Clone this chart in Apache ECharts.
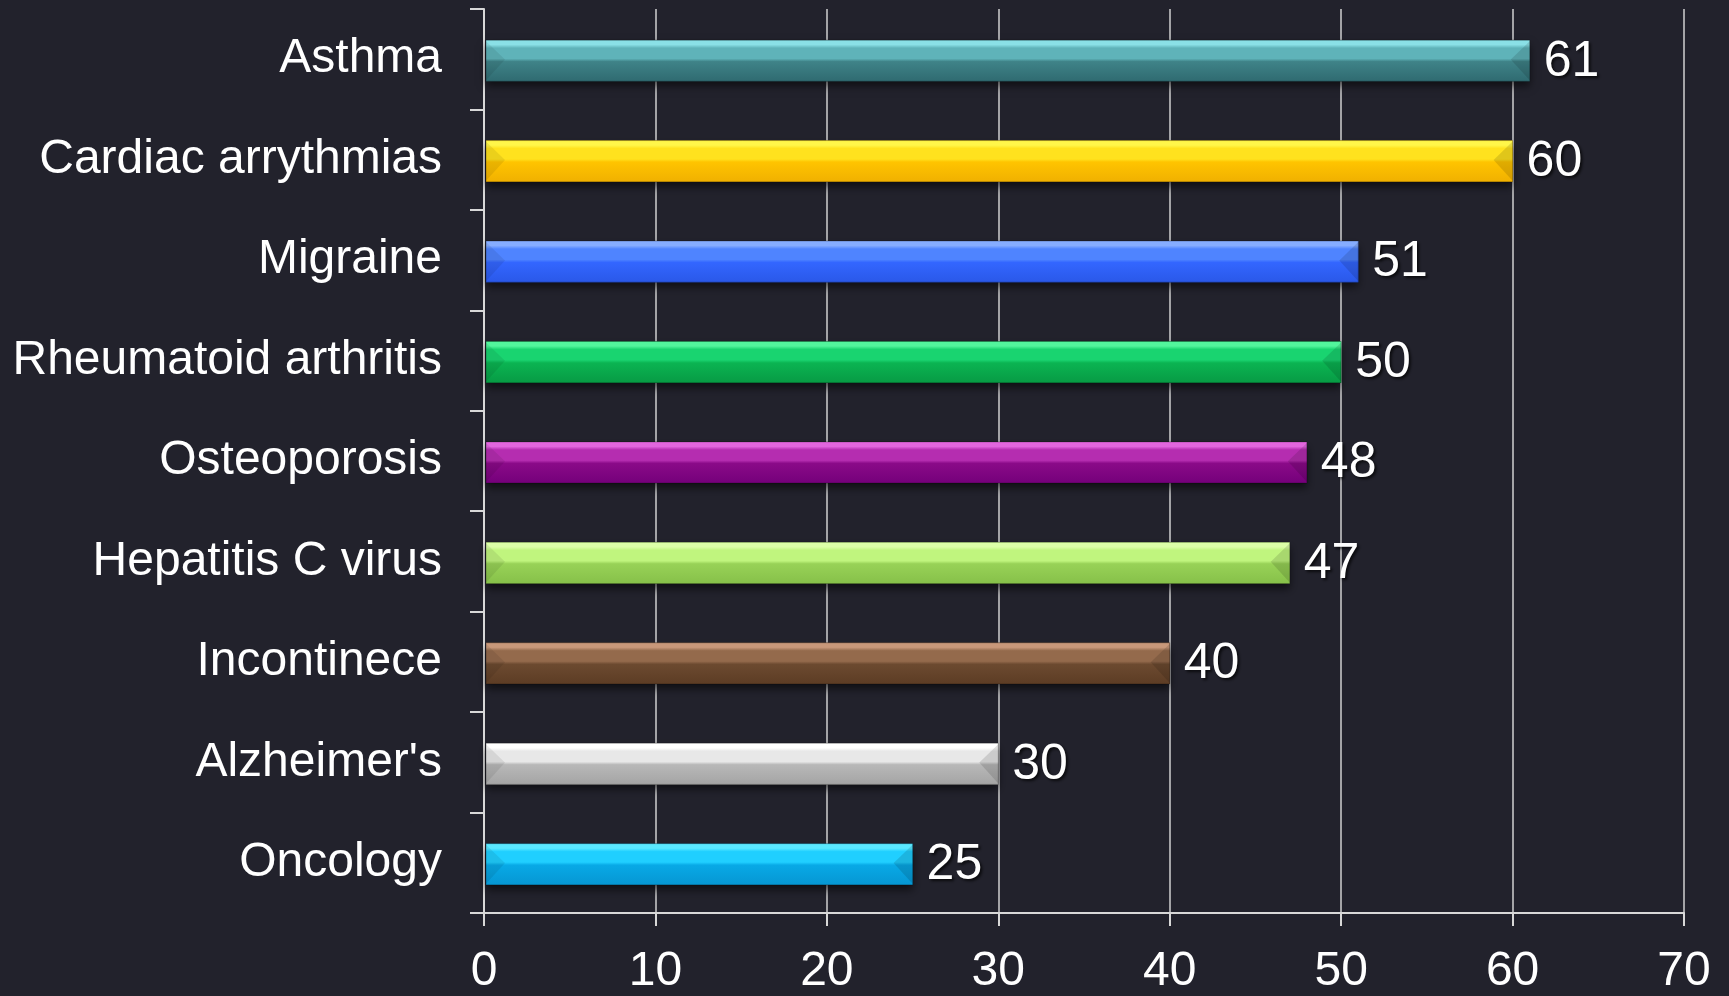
<!DOCTYPE html>
<html>
<head>
<meta charset="utf-8">
<script src="https://cdn.jsdelivr.net/npm/echarts@6/dist/echarts.min.js"></script>
<style>
html,body{margin:0;padding:0;background:#22222c;overflow:hidden;}
#chart{width:1729px;height:996px;}
</style>
</head>
<body>
<div id="chart"></div>
<script>
var categories = ["Asthma","Cardiac arrythmias","Migraine","Rheumatoid arthritis","Osteoporosis","Hepatitis C virus","Incontinece","Alzheimer's","Oncology"];
var values = [61,60,51,50,48,47,40,30,25];
var xTicks = [0,10,20,30,40,50,60,70];
// [highlight, light, base, dark]
var barColors = [
  ["#8ae0e6","#5fb3b9","#3f8388","#2f6a70"],
  ["#fff64a","#ffe21e","#ffc400","#f0b000"],
  ["#86adff","#4f84ff","#3366ff","#2a58e8"],
  ["#52f59c","#19d470","#0bb452","#079a44"],
  ["#e266de","#b52db0","#8a0a88","#74007a"],
  ["#dcffa8","#c0f57e","#98d257","#86c049"],
  ["#c8987a","#946a4c","#6c4a30","#5c3c24"],
  ["#ffffff","#e8e8e8","#b8b8b8","#a4a4a4"],
  ["#5ae8ff","#20cfff","#08a9e6","#0696d2"]
];

var chart = echarts.init(document.getElementById('chart'));
var data = values.map(function(v,i){ return [v, i]; });

function renderItem(params, api){
  var idx = api.value(1);
  var val = api.value(0);
  var p0 = api.coord([0, idx]);
  var p1 = api.coord([val, idx]);
  var band = api.size([0, 1])[1];
  var h = band * 0.41;
  var cy = p0[1] + 1.5;
  var x0 = p0[0] + 2, x1 = p1[0];
  var top = cy - h/2, bot = cy + h/2;
  var c = barColors[idx];
  var bev = 19;
  var mid = top + h*0.47;
  return {
    type: 'group',
    children: [
      {type:'rect', shape:{x:x0, y:top, width:x1-x0, height:h},
       style:{fill:c[3], shadowBlur:8, shadowOffsetY:5, shadowColor:'rgba(0,0,0,0.55)'}},
      {type:'rect', shape:{x:x0, y:top, width:x1-x0, height:h},
       style:{fill:new echarts.graphic.LinearGradient(0,0,0,1,[
         {offset:0,color:c[0]},{offset:0.12,color:c[0]},{offset:0.2,color:c[1]},
         {offset:0.45,color:c[1]},{offset:0.52,color:c[2]},{offset:1,color:c[3]}]),
         stroke:'rgba(0,0,0,0.25)', lineWidth:1}},
      {type:'polygon', shape:{points:[[x0,top+1],[x0+bev,mid],[x0,bot-1]]},
       style:{fill:'rgba(0,0,0,0.08)'}},
      {type:'polygon', shape:{points:[[x1,top+1],[x1-bev,mid],[x1,bot-1]]},
       style:{fill:'rgba(0,0,0,0.12)'}},
      {type:'text', x: x1 + 14, y: cy + 1,
       style:{text:String(val), fill:'#ffffff', fontSize:50,
         fontFamily:'"Liberation Sans", Arial, sans-serif',
         verticalAlign:'middle', align:'left',
         textShadowColor:'rgba(0,0,0,0.7)', textShadowBlur:3, textShadowOffsetX:2, textShadowOffsetY:2}}
    ]
  };
}

chart.setOption({
  backgroundColor:'#22222c',
  animation:false,
  grid:{left:484, right:45, top:9, bottom:76, containLabel:false},
  xAxis:{
    type:'value', min:0, max:70, interval:10,
    axisLine:{show:true, lineStyle:{color:'#d8d8d8', width:2}},
    axisTick:{show:true, length:13, lineStyle:{color:'#d8d8d8', width:2}},
    splitLine:{show:true, lineStyle:{color:'#d0d0d0', width:1.5}},
    axisLabel:{color:'#ffffff', fontSize:48, margin:35,
      fontFamily:'"Liberation Sans", Arial, sans-serif',
      formatter:function(v){ return xTicks.indexOf(v) >= 0 ? String(v) : ''; }}
  },
  yAxis:{
    type:'category', data:categories, inverse:true,
    axisLine:{show:true, onZero:false, lineStyle:{color:'#d8d8d8', width:2}},
    axisTick:{show:true, length:14, alignWithLabel:false, lineStyle:{color:'#d8d8d8', width:2}},
    splitLine:{show:false},
    axisLabel:{color:'#ffffff', fontSize:48, margin:42,
      fontFamily:'"Liberation Sans", Arial, sans-serif'}
  },
  series:[{
    type:'custom',
    renderItem: renderItem,
    encode:{x:0, y:1},
    data:data,
    clip:false
  }]
});
</script>
</body>
</html>
